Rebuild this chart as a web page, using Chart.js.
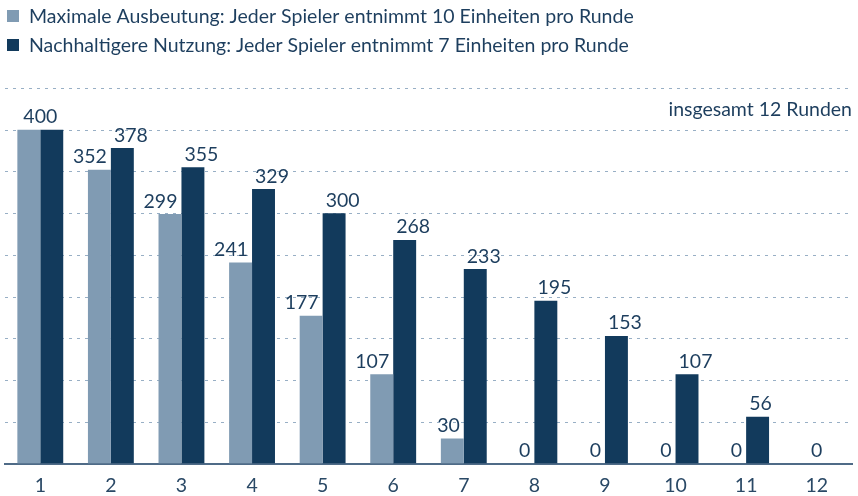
<!DOCTYPE html>
<html><head><meta charset="utf-8">
<script src="https://cdn.jsdelivr.net/npm/chart.js@4/dist/chart.umd.min.js"></script>
<style>html,body{margin:0;padding:0;background:#fff}#wrap{width:858px;height:496px}</style>
</head><body><div id="wrap"><canvas id="c" width="858" height="496"></canvas></div>
<script>
const categories = ['1','2','3','4','5','6','7','8','9','10','11','12'];
const seriesNames = ['Maximale Ausbeutung: Jeder Spieler entnimmt 10 Einheiten pro Runde','Nachhaltigere Nutzung: Jeder Spieler entnimmt 7 Einheiten pro Runde'];
const maxAusbeutung = [400,352,299,241,177,107,30,0,0,0,0,null];
const nachhaltig = [400,378,355,329,300,268,233,195,153,107,56,0];
const noteText = 'insgesamt 12 Runden';
const FONT = 'Lato';
const TXT = '#1d3e5e';
const C1 = '#809bb3', C2 = '#123a5c';

const gridPlugin = {
  id:'dashgrid',
  beforeDatasetsDraw(chart){
    const ctx = chart.ctx, ys = chart.scales.y, a = chart.chartArea;
    ctx.save();
    ctx.strokeStyle = '#98afc5';
    ctx.lineWidth = 1;
    ctx.setLineDash([3,5]);
    ys.ticks.forEach(t=>{
      if(t.value===0) return;
      const y = Math.round(ys.getPixelForValue(t.value))+0.5;
      ctx.beginPath(); ctx.moveTo(a.left, y); ctx.lineTo(a.right, y); ctx.stroke();
    });
    ctx.restore();
  }
};

const labelPlugin = {
  id:'labels',
  afterDatasetsDraw(chart){
    const ctx = chart.ctx;
    ctx.save();
    ctx.font = '19.5px ' + FONT;
    ctx.fillStyle = TXT;
    ctx.textBaseline = 'bottom';
    const m0 = chart.getDatasetMeta(0), m1 = chart.getDatasetMeta(1);
    const d0 = chart.data.datasets[0].data, d1 = chart.data.datasets[1].data;
    for(let i=0;i<categories.length;i++){
      const a = d0[i], b = d1[i];
      if(a!=null && b!=null && a===b && a!==0){
        const x = (m0.data[i].x + m1.data[i].x)/2;
        ctx.textAlign='center';
        ctx.fillText(String(a), x, m0.data[i].y-3);
        continue;
      }
      if(a!=null){
        const el = m0.data[i];
        ctx.textAlign='right';
        ctx.fillText(String(a), el.x + el.width/2 - 4, el.y-3);
      }
      if(b!=null){
        const el = m1.data[i];
        if(a==null){ctx.textAlign='center';ctx.fillText(String(b), el.x, el.y-3);}
        else {ctx.textAlign='left';ctx.fillText(String(b), el.x - el.width/2 + 3, el.y-3);}
      }
    }
    ctx.textAlign='right';
    ctx.textBaseline='middle';
    ctx.fillText(noteText, chart.chartArea.right, 110);
    ctx.textAlign='left';
    const cols=[C1,C2];
    seriesNames.forEach((n,k)=>{
      const y = 16 + k*29;
      ctx.fillStyle = cols[k];
      ctx.fillRect(7, y-6, 12, 12);
      ctx.fillStyle = TXT;
      ctx.fillText(n, 29, y+1);
    });
    ctx.restore();
  }
};

new Chart(document.getElementById('c'), {
  type:'bar',
  data:{labels:categories, datasets:[
    {label:seriesNames[0], data:maxAusbeutung, backgroundColor:C1, borderWidth:0},
    {label:seriesNames[1], data:nachhaltig, backgroundColor:C2, borderWidth:0}
  ]},
  options:{
    responsive:false, animation:false, devicePixelRatio:1,
    skipNull:true,
    layout:{padding:{top:88,left:5,right:6,bottom:-11}},
    plugins:{legend:{display:false}, tooltip:{enabled:false}},
    datasets:{bar:{categoryPercentage:0.65, barPercentage:1}},
    scales:{
      x:{grid:{display:false, drawTicks:false}, border:{display:true,color:'#4f6b87',width:2},
         ticks:{color:'#2a4966', font:{family:FONT,size:19.5}, padding:10}},
      y:{min:0,max:450, ticks:{display:false, stepSize:50}, border:{display:false},
         grid:{display:false, drawTicks:false}}
    }
  },
  plugins:[gridPlugin, labelPlugin]
});
</script></body></html>
